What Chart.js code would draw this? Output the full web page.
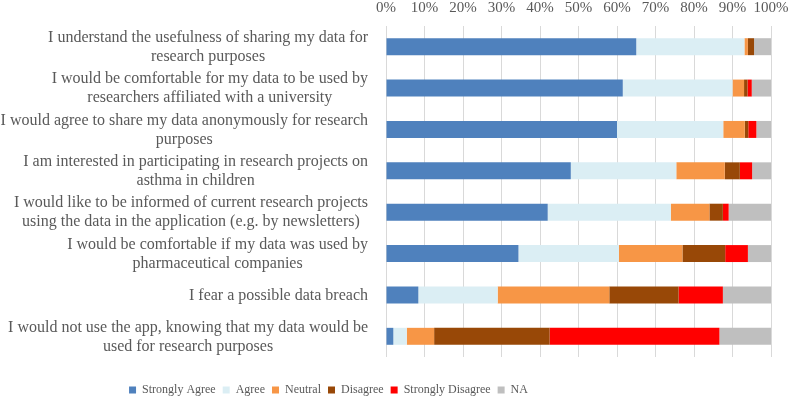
<!DOCTYPE html>
<html>
<head>
<meta charset="utf-8">
<script src="https://cdn.jsdelivr.net/npm/chart.js@4/dist/chart.umd.min.js"></script>
<style>
  html, body { margin: 0; padding: 0; background: #ffffff; }
  #wrap { width: 790px; height: 397px; }
</style>
</head>
<body>
<div id="wrap"><canvas id="c" width="790" height="397"></canvas></div>
<script>
const categories = [
  ["I understand the usefulness of sharing my data for", "research purposes"],
  ["I would be comfortable for my data to be used by", "researchers affiliated with a university"],
  ["I would agree to share my data anonymously for research", "purposes"],
  ["I am interested in participating in research projects on", "asthma in children"],
  ["I would like to be informed of current research projects", "using the data in the application (e.g. by newsletters)"],
  ["I would be comfortable if my data was used by", "pharmaceutical companies"],
  ["I fear a possible data breach"],
  ["I would not use the app, knowing that my data would be", "used for research purposes"]
];
const seriesNames = ["Strongly Agree", "Agree", "Neutral", "Disagree", "Strongly Disagree", "NA"];
const stronglyAgree    = [65.0, 61.5, 60.0, 48.0, 42.0, 34.4,  8.4,  1.9];
const agree            = [28.1, 28.5, 27.6, 27.4, 32.0, 26.1, 20.6,  3.5];
const neutral          = [ 0.9,  3.0,  5.6, 12.6, 10.0, 16.5, 29.0,  7.1];
const disagree         = [ 1.6,  0.9,  0.9,  3.9,  3.5, 11.1, 18.0, 30.0];
const stronglyDisagree = [ 0.0,  1.1,  2.1,  3.2,  1.5,  5.9, 11.5, 44.1];
const na               = [ 4.4,  5.0,  3.8,  4.9, 11.0,  6.0, 12.5, 13.4];
const xTicks = [0, 10, 20, 30, 40, 50, 60, 70, 80, 90, 100];

const colors = ["#4f81bd", "#dbeef4", "#f79646", "#984807", "#ff0000", "#bfbfbf"];
const values = [stronglyAgree, agree, neutral, disagree, stronglyDisagree, na];

const FONT = '"Liberation Serif", serif';
const TEXT = '#595959';

const yLabelPlugin = {
  id: 'yLabels',
  afterDraw(chart) {
    const ctx = chart.ctx;
    const ys = chart.scales.y;
    ctx.save();
    ctx.font = '16px ' + FONT;
    ctx.fillStyle = TEXT;
    ctx.textAlign = 'center';
    ctx.textBaseline = 'middle';
    const lh = 19;
    categories.forEach((lines, i) => {
      const cy = ys.getPixelForValue(i) + 0.5;
      const w = Math.max(...lines.map(l => ctx.measureText(l).width));
      const cx = chart.chartArea.left - 18 - w / 2;
      lines.forEach((l, j) => {
        ctx.fillText(l, cx, cy + (j - (lines.length - 1) / 2) * lh);
      });
    });
    ctx.restore();
  }
};

const legendShift = {
  id: 'legendShift',
  beforeDraw(chart) {
    const lg = chart.legend;
    if (!lg || lg._shifted) return;
    const w = lg.right - lg.left;
    const center = 328.5;
    lg.left = center - w / 2;
    lg.right = center + w / 2;
    lg.top += 20;
    lg.bottom += 20;
    lg._shifted = true;
  }
};

new Chart(document.getElementById('c'), {
  type: 'bar',
  data: {
    labels: categories.map(c => c.join(' ')),
    datasets: seriesNames.map((name, k) => ({
      label: name,
      data: values[k],
      backgroundColor: colors[k],
      borderWidth: 0,
      categoryPercentage: 1.0,
      barPercentage: 0.41
    }))
  },
  options: {
    indexAxis: 'y',
    responsive: false,
    animation: false,
    layout: { padding: { top: 0, right: 19, bottom: 11, left: 0 } },
    scales: {
      x: {
        position: 'top',
        stacked: true,
        min: 0,
        max: 100,
        afterBuildTicks: (s) => { s.ticks = xTicks.map(v => ({ value: v })); },
        afterFit: (s) => { s.height = 26; },
        ticks: {
          callback: v => v + '%',
          color: TEXT,
          font: { family: FONT, size: 15, lineHeight: 2.4 },
          padding: 0,
          maxRotation: 0
        },
        grid: { color: '#d9d9d9', lineWidth: 1, drawTicks: false },
        border: { display: false }
      },
      y: {
        stacked: true,
        afterFit: (s) => { s.width = 386; },
        ticks: { display: false },
        grid: { display: false, drawTicks: false },
        border: { display: false }
      }
    },
    plugins: {
      legend: {
        position: 'bottom',
        labels: {
          boxWidth: 7,
          boxHeight: 7,
          padding: 7,
          color: TEXT,
          font: { family: FONT, size: 12 }
        }
      },
      tooltip: { enabled: false }
    }
  },
  plugins: [yLabelPlugin, legendShift]
});
</script>
</body>
</html>
